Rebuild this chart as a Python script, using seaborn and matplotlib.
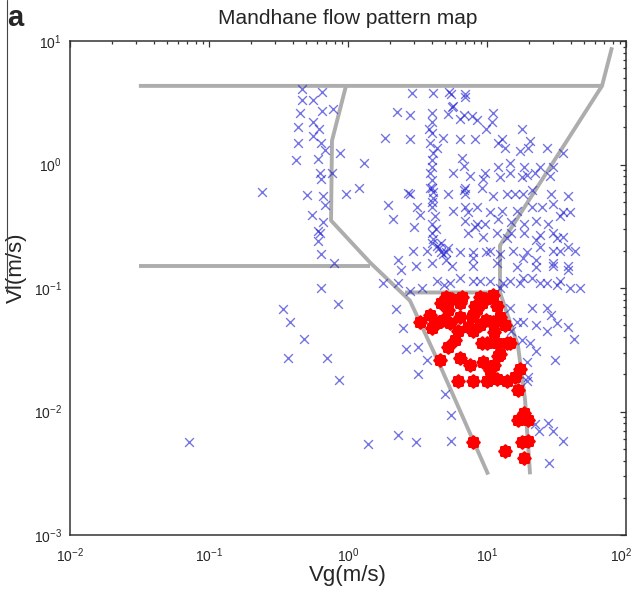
import numpy as np
import pandas as pd
import matplotlib
matplotlib.use("Agg")
import matplotlib.pyplot as plt
from matplotlib.lines import Line2D
from matplotlib.ticker import LogLocator, FixedLocator
from matplotlib.transforms import ScaledTranslation
import seaborn as sns

# ---- measured operating points: gas velocity Vg, liquid velocity Vl (m/s) ----
# points outside the slug region (blue crosses)
vg_other = [
    0.47, 0.65, 0.47, 0.56, 0.45, 0.65, 0.78, 0.56, 0.44, 0.62, 0.44, 0.56, 0.64, 0.68, 0.88,
    0.42, 0.61, 1.3, 0.63, 0.77, 0.64, 0.24, 0.51, 0.66, 0.97, 1.2, 0.68, 0.55, 0.66, 0.61,
    0.63, 0.61, 0.64, 0.79, 0.64, 0.85, 0.34, 0.38, 0.48, 0.37, 0.71, 0.86,
    2.3, 2.4, 1.8, 2.3, 2.2, 2.5, 2.6, 1.4, 2.3, 3.1, 5.5, 5.0, 5.5, 19.5, 22, 23.5, 27.5,
    30, 35, 28, 0.072, 3.2, 3.7, 3.2,
    2.9, 4.1, 5.5, 6.9, 2.25, 2.8, 4.0, 5.2, 5.7, 6.8, 7.8, 11, 3.8, 1.85, 2.8, 3.9, 4.4,
    4.0, 3.9, 4.0, 4.1, 4.0, 1.95, 2.7, 3.15, 3.3, 2.1, 3.0, 4.0, 4.0, 4.0, 4.4, 3.7,
    5.3, 7.0, 5.6, 6.4, 8.5, 10.8, 9.8, 4.8, 6.4, 8.2, 12.8, 12.0, 13.5, 18, 20.4, 17.3,
    19.7, 27, 35, 6.6, 6.8, 14.6, 12, 18.5, 24, 30, 5.7, 7.5, 9.6, 9.3, 12.4, 14.6, 17.8,
    19.3, 22, 28.4, 5.2, 7.0, 7.0, 9.2, 11, 14, 16, 18.3, 21.2, 29, 38, 5.7, 7.0, 8.5,
    10.5, 12.8, 16.5, 21, 25, 30, 35, 39.5, 7.0, 8.2, 9.6, 12, 15, 18.6, 22.5, 27.5, 33.5,
    7.3, 9.3, 11.8, 15, 18.6, 24, 30, 35, 5.1, 6.4, 7.9, 9.8, 12.4, 15.3, 19.3, 24, 30,
    38, 43,
    2.8, 3.9, 6.8, 7.3, 8.5, 2.95, 4.7, 3.1, 4.0, 5.1, 7.9, 10.5, 2.8, 3.4, 4.4, 5.4, 6.4,
    7.9, 10.5, 12.4, 14.6, 17.3, 21.2, 27, 33.5, 39.5, 46.7, 18.3, 22.5, 30, 38, 14, 22.5,
    32, 33.5,
    5.6, 7.9, 11.8, 16.5, 22.5, 30, 38, 4.9, 8.9, 13, 18.3, 24, 32, 14.6, 21.2, 27, 29,
    16.5, 18.3, 22.5, 27, 32, 38, 15, 17.8, 20.4, 42, 22.5, 31, 19.3, 19.7,
    4.0, 4.0, 4.1, 4.0, 4.0, 4.1, 4.0, 4.2, 4.3, 4.1, 4.5, 4.7, 4.8, 5.2,
]
vl_other = [
    4.1, 3.9, 3.3, 3.3, 2.6, 2.7, 2.8, 2.2, 2.0, 1.95, 1.5, 1.7, 1.5, 1.3, 1.25,
    1.08, 1.1, 1.02, 0.85, 0.85, 0.77, 0.60, 0.57, 0.56, 0.58, 0.64, 0.47, 0.39, 0.34, 0.29,
    0.28, 0.24, 0.19, 0.16, 0.10, 0.074, 0.068, 0.053, 0.039, 0.027, 0.027, 0.018,
    0.17, 0.14, 0.11, 0.11, 0.068, 0.047, 0.032, 0.0055, 0.0064, 0.0057, 0.0058, 0.0139,
    0.0094, 0.0176, 0.0079, 0.0070, 0.0080, 0.0069, 0.0058, 0.0038, 0.0057, 0.033, 0.026,
    0.020,
    3.8, 3.8, 3.7, 3.55, 2.65, 2.5, 2.6, 2.55, 2.95, 2.5, 2.45, 2.6, 1.95, 1.65, 1.6, 1.5,
    1.37, 1.08, 0.85, 0.65, 0.54, 0.45, 0.47, 0.59, 0.45, 0.39, 0.36, 0.31, 0.33, 0.28,
    0.23, 0.22, 0.20,
    3.9, 3.7, 2.9, 2.35, 2.3, 2.2, 1.95, 1.65, 1.6, 1.62, 1.62, 1.48, 1.35, 1.95, 1.55,
    1.28, 1.35, 1.37, 1.23, 1.12, 0.98, 1.02, 0.96, 0.95, 0.95, 0.95, 0.85, 0.80, 0.86,
    0.77, 0.79, 0.85, 0.79, 0.82, 0.86, 0.81, 0.58, 0.64, 0.58, 0.64, 0.56, 0.58, 0.58,
    0.58, 0.62, 0.58, 0.56, 0.42, 0.45, 0.45, 0.41, 0.42, 0.42, 0.45, 0.45, 0.48, 0.41,
    0.41, 0.35, 0.31, 0.33, 0.36, 0.34, 0.33, 0.35, 0.33, 0.38, 0.28, 0.26, 0.28, 0.28,
    0.28, 0.27, 0.28, 0.26, 0.195, 0.195, 0.195, 0.195, 0.19, 0.20, 0.195, 0.215, 0.20,
    0.215, 0.20,
    0.58, 0.65, 0.62, 0.41, 0.33, 0.20, 0.195, 0.15, 0.16, 0.167, 0.175, 0.20, 0.095,
    0.10, 0.115, 0.11, 0.12, 0.115, 0.115, 0.10, 0.115, 0.11, 0.12, 0.11, 0.115, 0.10,
    0.10, 0.175, 0.167, 0.16, 0.15, 0.255, 0.243, 0.255, 0.20,
    0.15, 0.15, 0.158, 0.148, 0.148, 0.15, 0.139, 0.105, 0.115, 0.11, 0.12, 0.11, 0.105,
    0.069, 0.069, 0.069, 0.06, 0.053, 0.053, 0.05, 0.045, 0.052, 0.048, 0.045, 0.038,
    0.036, 0.039, 0.031, 0.026, 0.025, 0.019,
    2.2, 1.8, 1.25, 0.95, 0.75, 0.6, 0.5, 0.38, 0.3, 0.25, 0.21, 0.23, 0.19, 0.21,
]

# slug flow points (red)
vg_slug = [
    3.3, 3.9, 4.7, 5.6, 6.6, 6.4, 5.2, 4.4, 5.4, 6.2, 7.3, 7.8, 8.5, 9.2, 9.8, 11, 8.9,
    7.9, 8.9, 9.8, 11, 12.4, 13.5, 11.2, 9.2, 10, 11.8, 14, 5.9, 5.2, 4.6, 6.4, 7.5, 9.3,
    12, 11.3, 10.5, 6.2, 7.9, 10, 11.8, 14, 15.9, 17.3, 16.8, 4.8, 4.2, 4.0, 5.1, 8.2,
    11.8, 6.4, 7.9, 14.6, 12.4, 18.6, 13.5, 7.9, 16.8, 19.7, 17.8, 19.7, 18.6,
]
vl_slug = [
    0.053, 0.060, 0.075, 0.082, 0.084, 0.075, 0.066, 0.052, 0.052, 0.045, 0.048, 0.058,
    0.068, 0.075, 0.082, 0.087, 0.084, 0.045, 0.050, 0.055, 0.053, 0.058, 0.050, 0.044,
    0.036, 0.036, 0.036, 0.036, 0.038, 0.033, 0.026, 0.027, 0.024, 0.025, 0.028, 0.024,
    0.0215, 0.0178, 0.0178, 0.0178, 0.0185, 0.0178, 0.019, 0.022, 0.0148, 0.055, 0.052,
    0.047, 0.084, 0.072, 0.072, 0.058, 0.060, 0.036, 0.029, 0.0097, 0.0048, 0.0057,
    0.0085, 0.0085, 0.0057, 0.0058, 0.0042,
]

# decade ticks on both axes
x_decades = [1e-2, 1e-1, 1e0, 1e1, 1e2]
y_decades = [1e-3, 1e-2, 1e-1, 1e0, 1e1]

# ---- Mandhane transition boundaries (Vg, Vl in m/s) ----
boundaries = {
    "dispersed":        ([0.0313, 67.2, 79.3], [4.33, 4.33, 8.9]),
    "annular":          ([67.2, 12.4, 12.4], [4.33, 0.221, 0.092]),
    "wavy":             ([2.57, 12.4, 16.7, 18.8, 20.4], [0.092, 0.092, 0.0342, 0.0123, 0.0031]),
    "slug_stratified":  ([0.967, 0.767, 0.755, 1.44, 2.79, 4.59, 10.2],
                         [4.33, 1.56, 0.352, 0.161, 0.079, 0.0236, 0.00309]),
    "elongated_bubble": ([0.0313, 1.44], [0.152, 0.152]),
}

sns.set_theme(style="white")
plt.rcParams["font.family"] = ["Liberation Sans", "DejaVu Sans"]
plt.rcParams["mathtext.fontset"] = "custom"
plt.rcParams["mathtext.rm"] = "Liberation Sans"
plt.rcParams["mathtext.it"] = "Liberation Sans:italic"

fig = plt.figure(figsize=(6.34, 5.98), dpi=100)
ax = fig.add_axes([70 / 634, 1 - 535 / 598, 556 / 634, 494 / 598])
ax.set_xscale("log")
ax.set_yscale("log")

gray = "#adadad"
for name, (bx, by) in boundaries.items():
    seg = pd.DataFrame({"Vg": bx, "Vl": by})
    sns.lineplot(data=seg, x="Vg", y="Vl", sort=False, estimator=None, ax=ax,
                 color=gray, linewidth=2.8, solid_capstyle="butt", zorder=2)

other = pd.DataFrame({"Vg": vg_other, "Vl": vl_other})
slug = pd.DataFrame({"Vg": vg_slug, "Vl": vl_slug})

sns.scatterplot(data=other, x="Vg", y="Vl", ax=ax, marker="x", s=40,
                color="#1a1ad0", alpha=0.6, linewidth=1.0, zorder=3)
sns.scatterplot(data=slug, x="Vg", y="Vl", ax=ax, marker=(8, 2, 0), s=50,
                color="#ff0000", linewidth=3.0, zorder=4)

ax.set_xlim(x_decades[0], x_decades[-1])
ax.set_ylim(y_decades[0], y_decades[-1])
ax.xaxis.set_major_locator(FixedLocator(x_decades))
ax.yaxis.set_major_locator(FixedLocator(y_decades))
ax.xaxis.set_minor_locator(LogLocator(base=10, subs=np.arange(2, 10), numticks=20))
ax.yaxis.set_minor_locator(LogLocator(base=10, subs=np.arange(2, 10), numticks=20))

for sp in ax.spines.values():
    sp.set_color("#333333")
    sp.set_linewidth(1.1)
ax.tick_params(which="both", direction="in", top=True, right=True,
               color="#333333", width=0.9)
ax.tick_params(which="major", length=4, labelsize=10, pad=6)
ax.tick_params(axis="x", which="major", pad=8)
ax.tick_params(which="minor", length=2.5)

ax.set_title("Mandhane flow pattern map", fontsize=15, pad=12)
ax.set_xlabel("Vg(m/s)", fontsize=16)
ax.set_ylabel("Vl(m/s)", fontsize=16)
ax.xaxis.set_label_coords(0.5, -0.06)
ax.yaxis.set_label_coords(-0.077, 0.54)

# keep the last x tick label inside the figure edge
fig.canvas.draw()
last = ax.get_xticklabels()[-1]
last.set_transform(last.get_transform() + ScaledTranslation(-5 / 100, 0, fig.dpi_scale_trans))

# panel letter and page rule
fig.text(7 / 634, 1 - 26 / 598, "a", fontsize=21, fontweight="bold", va="baseline")
fig.add_artist(Line2D([6.5 / 634, 6.5 / 634], [1.0, 1 - 293 / 598],
                      color="#444444", linewidth=0.8))

fig.savefig("out.png", dpi=100, facecolor="white")
